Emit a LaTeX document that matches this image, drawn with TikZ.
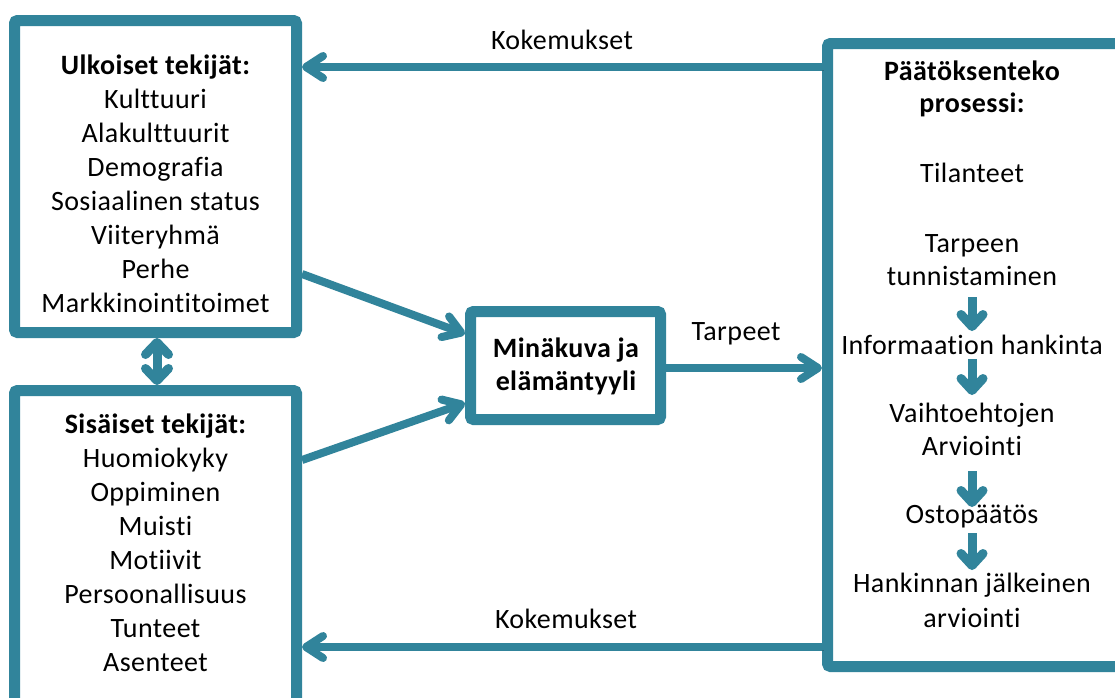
\documentclass[tikz,border=0pt]{standalone}
\usepackage{fontspec}
\setmainfont[Ligatures={NoCommon},LetterSpace=1.5]{Carlito}
\usetikzlibrary{arrows.meta}
\definecolor{tealc}{HTML}{31849B}
\begin{document}
\begin{tikzpicture}[x=1pt,y=-1pt,
  box/.style={draw=tealc, line width=11pt, outer sep=5.5pt, rounded corners=3pt, inner sep=0pt, anchor=north west, fill=white},
  txt/.style={font=\fontsize{28}{34}\selectfont, text=black, inner sep=0pt, anchor=base},
  hd/.style={txt, font=\fontsize{28}{34}\selectfont\bfseries},
  shadowed/.style={preaction={draw=black, draw opacity=0.18, transform canvas={shift={(1.5pt,-3pt)}}}},
  conn/.style={shadowed, draw=tealc, line width=8pt, -{Straight Barb[length=17pt,width=22pt,round]}},
  dconn/.style={draw=tealc, line width=9pt, {Straight Barb[length=12pt,width=23pt,round]}-{Straight Barb[length=12pt,width=23pt,round]}},
  flowarrow/.style={draw=tealc, line width=9pt, -{Straight Barb[length=12pt,width=22pt,round]}},
]
\useasboundingbox (0,0) rectangle (1115,697);
\clip (0,0) rectangle (1115,697);
\fill[white] (0,0) rectangle (1115,697);

% boxes
\node[box, minimum width=282pt, minimum height=312pt] (B1) at (9,15) {};
\node[box, minimum width=282pt, minimum height=330pt] (B2) at (9,385) {};
\node[box, minimum width=190pt, minimum height=108pt] (M) at (465,306) {};
\node[box, minimum width=350pt, minimum height=623pt] (R) at (822,38) {};

% box 1 text
\node[hd] (uh) at (155.5,74) {Ulkoiset tekijät:};
\foreach \t/\y [count=\i] in {Kulttuuri/108, Alakulttuurit/142, Demografia/176, Sosiaalinen status/210, Viiteryhmä/244, Perhe/278, Markkinointitoimet/312}
  \node[txt] (u\i) at (155.5,\y) {\t};

% box 2 text
\node[hd] (sh) at (155.5,433) {Sisäiset tekijät:};
\foreach \t/\y [count=\i] in {Huomiokyky/467, Oppiminen/501, Muisti/535, Motiivit/569, Persoonallisuus/603, Tunteet/637, Asenteet/671}
  \node[txt] (s\i) at (155.5,\y) {\t};

% middle text
\node[hd] (m1) at (566,357) {Minäkuva ja};
\node[hd] (m2) at (566,390) {elämäntyyli};

% right box text
\node[hd] (rh1) at (972,80) {Päätöksenteko};
\node[hd] (rh2) at (972,112) {prosessi:};
\foreach \t/\y [count=\i] in {Tilanteet/182, Tarpeen/252, tunnistaminen/285, Informaation hankinta/354, Vaihtoehtojen/422, Arviointi/455, Ostopäätös/523, Hankinnan jälkeinen/592, arviointi/627}
  \node[txt] (r\i) at (972,\y) {\t};

% connector y/x levels
\coordinate (yk1) at (0,67);
\coordinate (yk2) at (0,647);
\coordinate (ya1) at (0,274);
\coordinate (ya2) at (0,334);
\coordinate (yb1) at (0,460);
\coordinate (yb2) at (0,403);
\coordinate (yt) at (0,368);
\coordinate (xd) at (157,0);

% connectors
\draw[conn] (R.west |- yk1) -- (B1.east |- yk1);
\draw[conn] (R.west |- yk2) -- (B2.east |- yk2);
\draw[conn] (B1.east |- ya1) -- (M.west |- ya2);
\draw[conn] (B2.east |- yb1) -- (M.west |- yb2);
\draw[conn] (M.east |- yt) -- (R.west |- yt);
\draw[dconn] (B1.south -| xd) -- (B2.north -| xd);

% connector labels
\node[txt] (k1) at (562,49) {Kokemukset};
\node[txt] (k2) at (566,628) {Kokemukset};
\node[txt] (tp) at (736,340) {Tarpeet};

% process arrows
\coordinate (f1a) at (0,297); \coordinate (f1b) at (0,331);
\coordinate (f2a) at (0,359); \coordinate (f2b) at (0,395);
\coordinate (f3a) at (0,471); \coordinate (f3b) at (0,507);
\coordinate (f4a) at (0,533); \coordinate (f4b) at (0,570);
\draw[flowarrow] (r3 |- f1a) -- (r4 |- f1b);
\draw[flowarrow] (r4 |- f2a) -- (r5 |- f2b);
\draw[flowarrow] (r6 |- f3a) -- (r7 |- f3b);
\draw[flowarrow] (r7 |- f4a) -- (r8 |- f4b);
\end{tikzpicture}
\end{document}
